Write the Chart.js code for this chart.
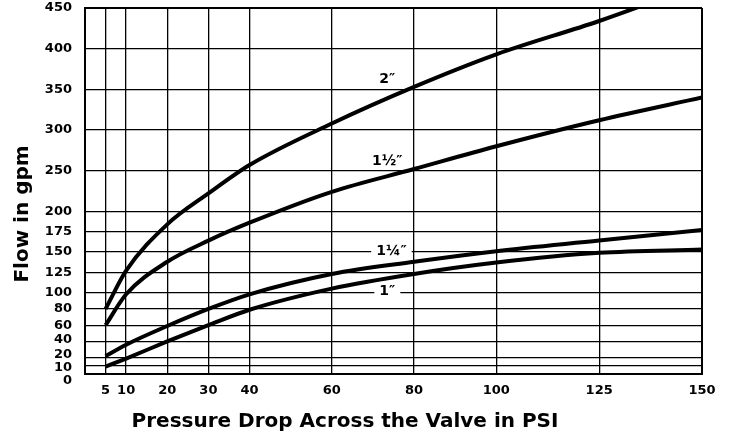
<!DOCTYPE html>
<html>
<head>
<meta charset="utf-8">
<script src="https://cdn.jsdelivr.net/npm/chart.js@4.4.1/dist/chart.umd.min.js"></script>
<style>
  html, body { margin: 0; padding: 0; background: #fff; }
  #wrap { width: 729px; height: 436px; }
</style>
</head>
<body>
<div id="wrap"><canvas id="grafValve"></canvas></div>
<script>
// pressure drop (psi) where the curves were read
const psi = [5, 10, 20, 30, 40, 60, 80, 100, 125, 150]

// flow in gpm per valve size
const flow1in = [9, 19, 40, 60, 79, 105, 123, 137, 149, 153]
const flow114 = [22, 36, 59, 80, 98, 123, 138, 151, 164, 177]
const flow112 = [60, 98, 138, 164, 186, 224, 252, 280, 312, 340]
const flow2in = [80, 127, 184, 222, 257, 308, 353, 393, 434, 480]

const sizes = ['1″', '1¼″', '1½″', '2″']
const allFlows = [flow1in, flow114, flow112, flow2in]

const xTicks = [0, 5, 10, 20, 30, 40, 60, 80, 100, 125, 150]
const yTicks = [0, 10, 20, 40, 60, 80, 100, 125, 150, 175, 200, 250, 300, 350, 400, 450]

// where the size labels sit (psi, gpm)
const labelPsi = [73.5, 74.5, 73.5, 73.5]
const labelGpm = [101, 151, 262, 362]

// small shifts of the crowded y labels near zero
const yLabelNudge = { '0': 7, '10': 2, '20': -3, '40': -2 }

const ctxValve = document.getElementById('grafValve')

const curveLabels = {
  id: 'curveLabels',
  beforeDatasetsDraw(chart) {
    const { ctx, scales: { x, y } } = chart
    ctx.save()
    ctx.font = 'bold 14px "DejaVu Sans"'
    ctx.textAlign = 'center'
    ctx.textBaseline = 'middle'
    sizes.forEach((s, i) => {
      const px = x.getPixelForValue(labelPsi[i])
      const py = y.getPixelForValue(labelGpm[i])
      const w = ctx.measureText(s).width + 10
      ctx.fillStyle = '#fff'
      ctx.fillRect(px - w / 2, py - 6, w, 12)
      ctx.fillStyle = '#000'
      ctx.fillText(s, px, py)
    })
    ctx.restore()
  }
}

const nudgeLabels = {
  id: 'nudgeLabels',
  beforeDraw(chart) {
    chart.scales.y.getLabelItems().forEach(item => {
      const d = yLabelNudge[item.label]
      if (d && !item.nudged) {
        item.options.translation[1] += d
        item.nudged = true
      }
    })
  }
}

const axisTitles = {
  id: 'axisTitles',
  afterDraw(chart) {
    const ctx = chart.ctx
    ctx.save()
    ctx.fillStyle = '#000'
    ctx.font = 'bold 20px "DejaVu Sans"'
    ctx.textAlign = 'center'
    ctx.textBaseline = 'alphabetic'
    ctx.fillText('Pressure Drop Across the Valve in PSI', 345, 427)
    ctx.translate(28, 214)
    ctx.rotate(-Math.PI / 2)
    ctx.fillText('Flow in gpm', 0, 0)
    ctx.restore()
  }
}

new Chart(ctxValve, {
  type: 'line',
  data: {
    datasets: sizes.map((s, i) => ({
      label: s,
      data: psi.map((p, j) => ({ x: p, y: allFlows[i][j] })),
      borderColor: '#000',
      borderWidth: 4,
      pointRadius: 0,
      fill: false,
      cubicInterpolationMode: 'monotone'
    }))
  },
  options: {
    responsive: true,
    maintainAspectRatio: false,
    animation: false,
    layout: {
      padding: { top: 8, right: 27, left: 0, bottom: 0 }
    },
    plugins: {
      legend: { display: false },
      tooltip: { enabled: false }
    },
    scales: {
      x: {
        type: 'linear',
        min: 0,
        max: 150,
        afterBuildTicks: s => { s.ticks = xTicks.map(v => ({ value: v })) },
        afterFit: s => { s.height = 62; s.paddingLeft = 0; s.paddingRight = 0 },
        ticks: {
          autoSkip: false,
          maxRotation: 0,
          padding: 9,
          color: '#000',
          font: { family: 'DejaVu Sans', size: 13, weight: 'bold' },
          callback: v => (v === 0 ? '' : v)
        },
        grid: {
          color: '#000',
          drawTicks: false,
          lineWidth: c => (c.tick && (c.tick.value === 0 || c.tick.value === 150) ? 2 : 1.3)
        },
        border: { color: '#000', width: 2 }
      },
      y: {
        type: 'linear',
        min: 0,
        max: 450,
        afterBuildTicks: s => { s.ticks = yTicks.map(v => ({ value: v })) },
        afterFit: s => { s.width = 85; s.paddingTop = 0; s.paddingBottom = 0 },
        ticks: {
          autoSkip: false,
          padding: 13,
          color: '#000',
          font: { family: 'DejaVu Sans', size: 13, weight: 'bold' }
        },
        grid: {
          color: '#000',
          drawTicks: false,
          lineWidth: c => (c.tick && (c.tick.value === 0 || c.tick.value === 450) ? 2 : 1.3)
        },
        border: { color: '#000', width: 2 }
      }
    }
  },
  plugins: [curveLabels, nudgeLabels, axisTitles]
})
</script>
</body>
</html>
